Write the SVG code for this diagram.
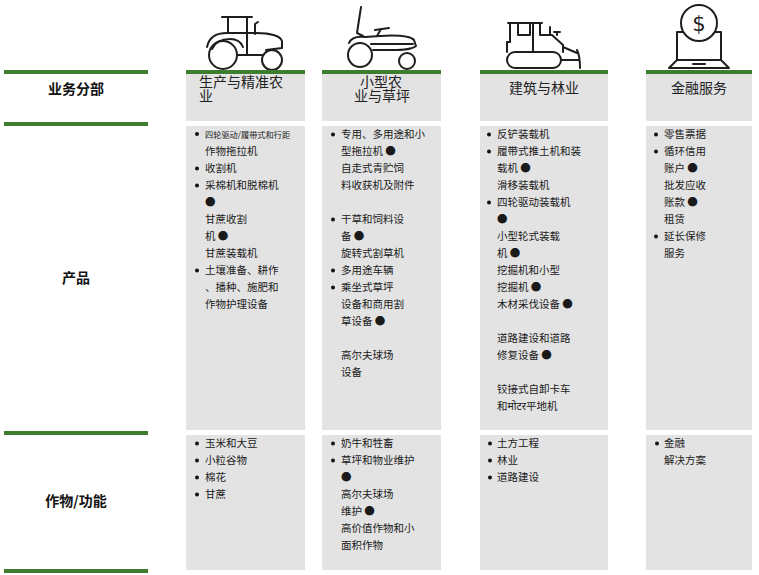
<svg xmlns="http://www.w3.org/2000/svg" width="759" height="575" viewBox="0 0 759 575">
<style>
.bg{fill:#ffffff}
.cell{fill:#e3e3e3}
.rule{fill:#3e7c2e}
.lbl{font-family:"Noto Sans CJK SC","Noto Sans",sans-serif;font-size:14px;font-weight:bold;fill:#111;text-anchor:middle}
.hdr{font-family:"Noto Sans CJK SC","Noto Sans",sans-serif;font-size:14px;fill:#222}
.mid{text-anchor:middle}
.t{font-family:"Noto Sans CJK SC","Noto Sans","DejaVu Sans",sans-serif;font-size:10.5px;fill:#1a1a1a}
.ts{font-size:8.2px}
.b{fill:#111}
.ic{fill:none;stroke:#1e1e1e;stroke-width:2;stroke-linecap:round;stroke-linejoin:round}
</style>
<rect class="bg" x="0" y="0" width="759" height="575"/>

<g id="row-labels">
  <rect class="rule" x="4" y="70" width="144" height="4"/>
  <rect class="rule" x="4" y="122" width="144" height="4"/>
  <rect class="rule" x="4" y="431" width="144" height="4"/>
  <rect class="rule" x="4" y="569" width="144" height="4"/>
  <text class="lbl" x="76" y="94">业务分部</text>
  <text class="lbl" x="76" y="283">产品</text>
  <text class="lbl" x="76" y="506">作物/功能</text>
</g>

<g id="icon-tractor">
  <circle class="ic" cx="223" cy="55" r="14"/>
  <circle class="ic" cx="272" cy="60" r="10"/>
  <path class="ic" d="M222,17 L252,17 M228,17 L228,33 M247,17 L247,55 M238,55 L262,55"/>
  <path class="ic" d="M255,34 L255,24 L258,22"/>
  <path class="ic" d="M207,47 C209,37 216,33 227,33 L256,33 C270,33 280,36 282,41 L282,48 L266,50"/>
  <path class="ic" d="M212,49 C215,42 222,39 230,39 C236,39 241,42 243,47"/>
</g>

<g id="icon-mower">
  <circle class="ic" cx="360" cy="55" r="12"/>
  <circle class="ic" cx="407" cy="61" r="8"/>
  <path class="ic" d="M361,7 L357,33 L363,36"/>
  <path class="ic" d="M377,36 L381,29 M375,30 L389,28"/>
  <path class="ic" d="M349,43 C351,38 356,36 365,37 L380,36 C396,35 410,36 414,40 L416,46 C411,50 401,50 392,50 L373,50"/>
  <path class="ic" d="M371,44 L413,44"/>
</g>

<g id="icon-dozer">
  <rect class="ic" x="507" y="52" width="54" height="16" rx="8"/>
  <path class="ic" d="M508,23 L542,23 M510,23 L510,42 L507,42 L507,52 M518,23 L518,35 L530,35 L530,23 M533,23 L533,52 M540,23 L540,35 L552,35 L563,45 L563,52 M550,35 L550,27 M554,32 L560,32 M557,32 L557,35"/>
  <path class="ic" d="M563,47 L577,53 M561,60 L578,60 M577,50 C580,56 580,62 580,68"/>
</g>

<g id="icon-finance">
  <circle class="ic" cx="699" cy="23" r="18"/>
  <text x="699" y="31" text-anchor="middle" style="font-family:'DejaVu Sans',sans-serif;font-size:21px;fill:#1e1e1e">$</text>
  <path class="ic" d="M683,32 L677,32 L677,60 L721,60 L721,32 L715,32"/>
  <path class="ic" d="M677,60 L669,68 L729,68 L721,60 M693,64 L705,64"/>
</g>

<g id="col1-header">
  <rect class="rule" x="186" y="70" width="119" height="4"/>
  <rect class="cell" x="186" y="74" width="119" height="47"/>
  <text class="hdr" x="199" y="87">生产与精准农<tspan x="199" y="101">业</tspan></text>
</g>
<g id="col2-header">
  <rect class="rule" x="322" y="70" width="119" height="4"/>
  <rect class="cell" x="322" y="74" width="119" height="47"/>
  <text class="hdr mid" x="381" y="87">小型农<tspan x="382" y="101">业与草坪</tspan></text>
</g>
<g id="col3-header">
  <rect class="rule" x="480" y="70" width="128" height="4"/>
  <rect class="cell" x="480" y="74" width="128" height="47"/>
  <text class="hdr mid" x="544" y="93">建筑与林业</text>
</g>
<g id="col4-header">
  <rect class="rule" x="646" y="70" width="106" height="4"/>
  <rect class="cell" x="646" y="74" width="106" height="47"/>
  <text class="hdr mid" x="699" y="93">金融服务</text>
</g>

<g id="col1-products">
  <rect class="cell" x="186" y="126" width="119" height="304"/>
  <circle class="b" cx="197" cy="134" r="2"/>
  <text class="t ts" x="205" y="138">四轮驱动/履带式和行距</text>
  <text class="t" x="205" y="155">作物拖拉机</text>
  <circle class="b" cx="197" cy="168.5" r="2"/>
  <text class="t" x="205" y="172">收割机</text>
  <circle class="b" cx="197" cy="185.5" r="2"/>
  <text class="t" x="205" y="189">采棉机和脱棉机</text>
  <text class="t" x="205" y="206">●</text>
  <text class="t" x="205" y="223">甘蔗收割</text>
  <text class="t" x="205" y="240">机 ●</text>
  <text class="t" x="205" y="257">甘蔗装载机</text>
  <circle class="b" cx="197" cy="270.5" r="2"/>
  <text class="t" x="205" y="274">土壤准备、耕作</text>
  <text class="t" x="205" y="291">、播种、施肥和</text>
  <text class="t" x="205" y="308">作物护理设备</text>
</g>

<g id="col2-products">
  <rect class="cell" x="322" y="126" width="119" height="304"/>
  <circle class="b" cx="333" cy="134.5" r="2"/>
  <text class="t" x="341" y="138">专用、多用途和小</text>
  <text class="t" x="341" y="155">型拖拉机 ●</text>
  <text class="t" x="341" y="172">自走式青贮饲</text>
  <text class="t" x="341" y="189">料收获机及附件</text>
  <circle class="b" cx="333" cy="219.5" r="2"/>
  <text class="t" x="341" y="223">干草和饲料设</text>
  <text class="t" x="341" y="240">备 ●</text>
  <text class="t" x="341" y="257">旋转式割草机</text>
  <circle class="b" cx="333" cy="270.5" r="2"/>
  <text class="t" x="341" y="274">多用途车辆</text>
  <circle class="b" cx="333" cy="287.5" r="2"/>
  <text class="t" x="341" y="291">乘坐式草坪</text>
  <text class="t" x="341" y="308">设备和商用割</text>
  <text class="t" x="341" y="325">草设备 ●</text>
  <text class="t" x="341" y="359">高尔夫球场</text>
  <text class="t" x="341" y="376">设备</text>
</g>

<g id="col3-products">
  <rect class="cell" x="480" y="126" width="128" height="304"/>
  <circle class="b" cx="489" cy="134.5" r="2"/>
  <text class="t" x="497" y="138">反铲装载机</text>
  <circle class="b" cx="489" cy="151.5" r="2"/>
  <text class="t" x="497" y="155">履带式推土机和装</text>
  <text class="t" x="497" y="172">载机 ●</text>
  <text class="t" x="497" y="189">滑移装载机</text>
  <circle class="b" cx="489" cy="202.5" r="2"/>
  <text class="t" x="497" y="206">四轮驱动装载机</text>
  <text class="t" x="497" y="223">●</text>
  <text class="t" x="497" y="240">小型轮式装载</text>
  <text class="t" x="497" y="257">机 ●</text>
  <text class="t" x="497" y="274">挖掘机和小型</text>
  <text class="t" x="497" y="291">挖掘机 ●</text>
  <text class="t" x="497" y="308">木材采伐设备 ●</text>
  <text class="t" x="497" y="342">道路建设和道路</text>
  <text class="t" x="497" y="359">修复设备 ●</text>
  <text class="t" x="497" y="393">铰接式自卸卡车</text>
  <text class="t" x="497" y="410">和मोटर平地机</text>
</g>

<g id="col4-products">
  <rect class="cell" x="646" y="126" width="106" height="304"/>
  <circle class="b" cx="656" cy="134.5" r="2"/>
  <text class="t" x="664" y="138">零售票据</text>
  <circle class="b" cx="656" cy="151.5" r="2"/>
  <text class="t" x="664" y="155">循环信用</text>
  <text class="t" x="664" y="172">账户 ●</text>
  <text class="t" x="664" y="189">批发应收</text>
  <text class="t" x="664" y="206">账款 ●</text>
  <text class="t" x="664" y="223">租赁</text>
  <circle class="b" cx="656" cy="236.5" r="2"/>
  <text class="t" x="664" y="240">延长保修</text>
  <text class="t" x="664" y="257">服务</text>
</g>

<g id="col1-crops">
  <rect class="cell" x="186" y="435" width="119" height="135"/>
  <circle class="b" cx="197" cy="443.5" r="2"/>
  <text class="t" x="205" y="447">玉米和大豆</text>
  <circle class="b" cx="197" cy="460.5" r="2"/>
  <text class="t" x="205" y="464">小粒谷物</text>
  <circle class="b" cx="197" cy="477.5" r="2"/>
  <text class="t" x="205" y="481">棉花</text>
  <circle class="b" cx="197" cy="494.5" r="2"/>
  <text class="t" x="205" y="498">甘蔗</text>
</g>

<g id="col2-crops">
  <rect class="cell" x="322" y="435" width="119" height="135"/>
  <circle class="b" cx="333" cy="443.5" r="2"/>
  <text class="t" x="341" y="447">奶牛和牲畜</text>
  <circle class="b" cx="333" cy="460.5" r="2"/>
  <text class="t" x="341" y="464">草坪和物业维护</text>
  <text class="t" x="341" y="481">●</text>
  <text class="t" x="341" y="498">高尔夫球场</text>
  <text class="t" x="341" y="515">维护 ●</text>
  <text class="t" x="341" y="532">高价值作物和小</text>
  <text class="t" x="341" y="549">面积作物</text>
</g>

<g id="col3-crops">
  <rect class="cell" x="480" y="435" width="128" height="135"/>
  <circle class="b" cx="490" cy="443.5" r="2"/>
  <text class="t" x="497" y="447">土方工程</text>
  <circle class="b" cx="490" cy="460.5" r="2"/>
  <text class="t" x="497" y="464">林业</text>
  <circle class="b" cx="490" cy="477.5" r="2"/>
  <text class="t" x="497" y="481">道路建设</text>
</g>

<g id="col4-crops">
  <rect class="cell" x="646" y="435" width="106" height="135"/>
  <circle class="b" cx="657" cy="443.5" r="2"/>
  <text class="t" x="664" y="447">金融</text>
  <text class="t" x="664" y="464">解决方案</text>
</g>

<g id="connectors"></g>
</svg>
